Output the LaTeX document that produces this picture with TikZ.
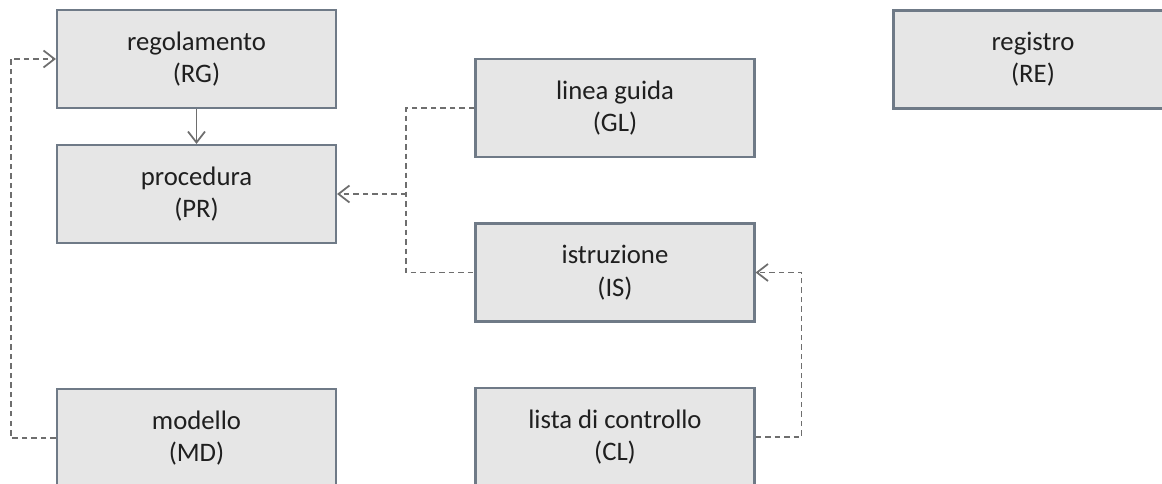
\documentclass[tikz,border=0pt]{standalone}
\usepackage{fontspec}
\setmainfont{Carlito}
\usetikzlibrary{arrows.meta}
\definecolor{boxfill}{HTML}{E6E6E6}
\definecolor{boxline}{HTML}{6F7A87}
\definecolor{linkgray}{HTML}{6E6E6E}
\begin{document}
\begin{tikzpicture}[
		doc/.style={draw=boxline, line width=1.2pt, fill=boxfill, minimum width=5.58cm, minimum height=1.96cm, align=center, text=black!88, font=\fontsize{15.2}{18.4}\selectfont},
		link/.style={draw=linkgray, line width=1pt},
		ref/.style={link, dash pattern=on 0.11cm off 0.08cm},
		tip/.style={-{Straight Barb[length=0.22cm,width=0.34cm]}}]
			\useasboundingbox (0,0) rectangle (23.24,-9.68);
			\node[doc] (rg) at (3.93,-1.18) {regolamento\\(RG)};
			\node[doc] (pr) at (3.93,-3.88) {procedura\\(PR)};
			\node[doc] (gl) at (12.3,-2.16) {linea guida\\(GL)};
			\node[doc] (is) at (12.3,-5.45) {istruzione\\(IS)};
			\node[doc] (md) at (3.93,-8.76) {modello\\(MD)};
			\node[doc] (cl) at (12.3,-8.74) {lista di controllo\\(CL)};
			\node[doc] (re) at (20.66,-1.19) {registro\\(RE)};
			\coordinate (j) at (8.12,-3.88);
			\draw[link, tip] (rg) -- (pr);
			\draw[ref, tip] (md.west) -- ++(-0.9,0) |- (rg.west);
			\draw[ref] (gl.west) -| (j) |- (is.west);
			\draw[ref, tip] (j) -- (pr.east);
			\draw[ref, tip] (cl.east) -- ++(0.92,0) |- (is.east);
\end{tikzpicture}
\end{document}
